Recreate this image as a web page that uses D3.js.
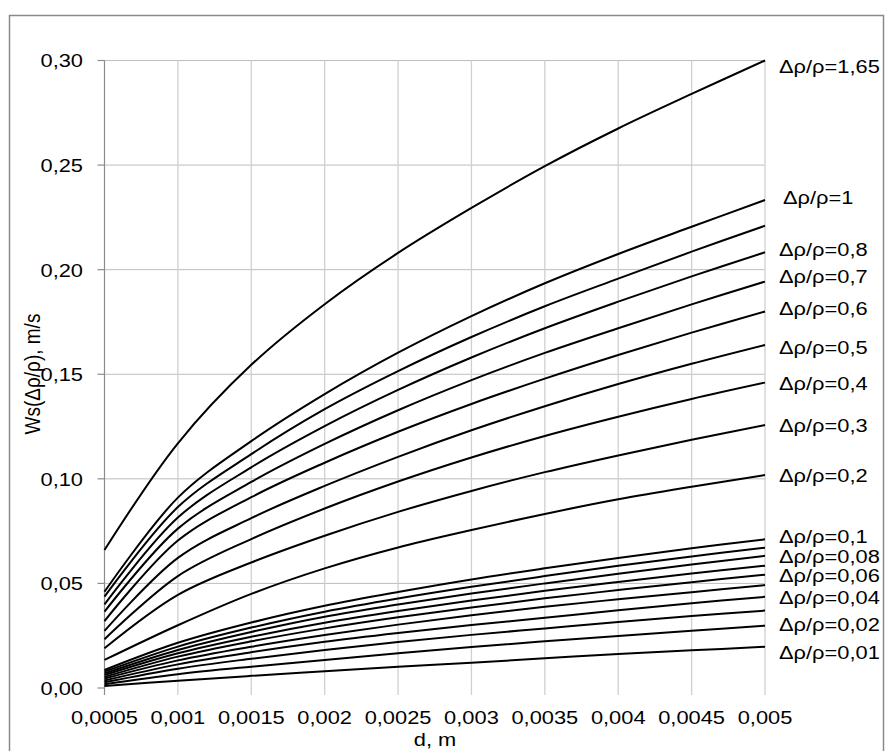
<!DOCTYPE html>
<html>
<head>
<meta charset="utf-8">
<script src="https://cdnjs.cloudflare.com/ajax/libs/d3/7.8.5/d3.min.js"></script>
<style>
  body { margin: 0; background: #fff; }
  text { font-family: "Liberation Sans", Arial, sans-serif; fill: #000; }
</style>
</head>
<body>
<div id="chart"></div>
<script>
// particle diameter, m (x ticks)
const diameters = [0.0005, 0.001, 0.0015, 0.002, 0.0025, 0.003, 0.0035, 0.004, 0.0045, 0.005]
const xTickLabels = ['0,0005', '0,001', '0,0015', '0,002', '0,0025', '0,003', '0,0035', '0,004', '0,0045', '0,005']

const yTicks = [0, 0.05, 0.10, 0.15, 0.20, 0.25, 0.30]
const yTickLabels = ['0,00', '0,05', '0,10', '0,15', '0,20', '0,25', '0,30']

// settling velocity Ws, m/s, one array per density ratio
const ws165 = [0.066, 0.117, 0.1545, 0.1835, 0.208, 0.2295, 0.2495, 0.2675, 0.284, 0.300]
const ws100 = [0.046, 0.091, 0.118, 0.1405, 0.1603, 0.1778, 0.1935, 0.2075, 0.2205, 0.2333]
const ws090 = [0.0437, 0.0865, 0.1118, 0.1333, 0.1515, 0.1678, 0.1825, 0.1957, 0.2086, 0.221]
const ws080 = [0.040, 0.0815, 0.1055, 0.1252, 0.1425, 0.158, 0.172, 0.1847, 0.1968, 0.2083]
const ws070 = [0.0365, 0.0762, 0.0985, 0.1167, 0.1328, 0.1472, 0.1602, 0.172, 0.1834, 0.1943]
const ws060 = [0.032, 0.0705, 0.0912, 0.1077, 0.1225, 0.1358, 0.1479, 0.1592, 0.1699, 0.180]
const ws050 = [0.0273, 0.0622, 0.0812, 0.0966, 0.1105, 0.1232, 0.1347, 0.1453, 0.155, 0.164]
const ws040 = [0.0233, 0.0535, 0.0712, 0.0858, 0.0987, 0.1102, 0.1205, 0.1297, 0.1382, 0.146]
const ws030 = [0.019, 0.0445, 0.060, 0.0728, 0.0842, 0.0942, 0.1032, 0.1112, 0.1187, 0.1257]
const ws020 = [0.0134, 0.030, 0.045, 0.0572, 0.0672, 0.0755, 0.0832, 0.0902, 0.0962, 0.1018]
const ws010 = [0.0086, 0.0216, 0.0313, 0.0393, 0.0459, 0.0519, 0.0572, 0.0622, 0.0668, 0.0711]
const ws009 = [0.0078, 0.0198, 0.0289, 0.0365, 0.0428, 0.0484, 0.0535, 0.0584, 0.0629, 0.0671]
const ws008 = [0.0070, 0.0182, 0.0268, 0.0341, 0.0399, 0.0452, 0.0500, 0.0546, 0.0590, 0.0632]
const ws007 = [0.0062, 0.0166, 0.0245, 0.0312, 0.0368, 0.0418, 0.0465, 0.0507, 0.0547, 0.0585]
const ws006 = [0.0053, 0.0150, 0.0223, 0.0285, 0.0338, 0.0385, 0.0429, 0.0468, 0.0506, 0.0542]
const ws005 = [0.0045, 0.0132, 0.0197, 0.0253, 0.0303, 0.0348, 0.0389, 0.0424, 0.0458, 0.0492]
const ws004 = [0.0036, 0.0113, 0.0171, 0.0221, 0.0263, 0.0301, 0.0336, 0.0372, 0.0405, 0.0436]
const ws003 = [0.0027, 0.0092, 0.0140, 0.0182, 0.0220, 0.0254, 0.0285, 0.0316, 0.0344, 0.0370]
const ws002 = [0.0018, 0.0066, 0.0102, 0.0134, 0.0166, 0.0196, 0.0223, 0.0249, 0.0274, 0.0298]
const ws001 = [0.0009, 0.0035, 0.0058, 0.0080, 0.0102, 0.0121, 0.0142, 0.0163, 0.0180, 0.0197]

const seriesLabels = ['Δρ/ρ=1,65', 'Δρ/ρ=1', '', 'Δρ/ρ=0,8', 'Δρ/ρ=0,7', 'Δρ/ρ=0,6', 'Δρ/ρ=0,5',
  'Δρ/ρ=0,4', 'Δρ/ρ=0,3', 'Δρ/ρ=0,2', 'Δρ/ρ=0,1', '', 'Δρ/ρ=0,08', '', 'Δρ/ρ=0,06', '',
  'Δρ/ρ=0,04', '', 'Δρ/ρ=0,02', 'Δρ/ρ=0,01']

const series = [ws165, ws100, ws090, ws080, ws070, ws060, ws050, ws040, ws030, ws020,
  ws010, ws009, ws008, ws007, ws006, ws005, ws004, ws003, ws002, ws001]

;(function () {

  const width = 885
  const height = 751
  const stretch = 1.15   // the source picture is a little wider than tall

  // nudges for the right hand labels, px from the end of each line
  const labelNudge = [6, -3, 0, -3, -5, -3, 2, 1, 0, 0, -3, 0, 0, 0, 1, 0, 0, 0, -2, 5]

  const svg = d3.select('#chart').append('svg')
    .attr('width', width)
    .attr('height', height)

  const xPositionScale = d3.scaleLinear()
    .domain([0.0005, 0.005])
    .range([104.5, 765])

  const yPositionScale = d3.scaleLinear()
    .domain([0, 0.30])
    .range([688, 60.5])

  // outer frame
  svg.append('rect')
    .attr('x', 9.5)
    .attr('y', 15.5)
    .attr('width', 874)
    .attr('height', 760)
    .attr('fill', 'none')
    .attr('stroke', '#8a8a8a')
    .attr('stroke-width', 1.5)

  // horizontal grid
  svg.selectAll('.hgrid')
    .data(yTicks.filter(d => d > 0))
    .join('line')
    .attr('class', 'hgrid')
    .attr('x1', 104.5)
    .attr('x2', xPositionScale(0.005))
    .attr('y1', d => yPositionScale(d))
    .attr('y2', d => yPositionScale(d))
    .attr('stroke', '#bdbdbd')
    .attr('stroke-width', 1)

  // vertical grid, runs a little below the plot as tick marks
  svg.selectAll('.vgrid')
    .data(diameters.slice(1))
    .join('line')
    .attr('class', 'vgrid')
    .attr('x1', d => xPositionScale(d))
    .attr('x2', d => xPositionScale(d))
    .attr('y1', yPositionScale(0.30))
    .attr('y2', yPositionScale(0) + 7)
    .attr('stroke', '#d0d0d0')
    .attr('stroke-width', 1.3)

  // y axis line + ticks
  svg.append('line')
    .attr('x1', 104.5)
    .attr('x2', 104.5)
    .attr('y1', yPositionScale(0.30))
    .attr('y2', yPositionScale(0) + 7)
    .attr('stroke', '#8c8c8c')
    .attr('stroke-width', 1.2)

  svg.selectAll('.ytick')
    .data(yTicks)
    .join('line')
    .attr('class', 'ytick')
    .attr('x1', 97.5)
    .attr('x2', 104.5)
    .attr('y1', d => yPositionScale(d))
    .attr('y2', d => yPositionScale(d))
    .attr('stroke', '#8c8c8c')
    .attr('stroke-width', 1.2)

  svg.selectAll('.ylabel')
    .data(yTicks)
    .join('text')
    .attr('class', 'ylabel')
    .attr('transform', d => 'translate(83,' + yPositionScale(d) + ') scale(' + stretch + ',1)')
    .attr('dy', '0.36em')
    .attr('text-anchor', 'end')
    .attr('font-size', 19)
    .text((d, i) => yTickLabels[i])

  svg.selectAll('.xlabel')
    .data(diameters)
    .join('text')
    .attr('class', 'xlabel')
    .attr('transform', d => 'translate(' + xPositionScale(d) + ',724) scale(' + stretch + ',1)')
    .attr('text-anchor', 'middle')
    .attr('font-size', 19)
    .text((d, i) => xTickLabels[i])

  // axis titles
  svg.append('text')
    .attr('transform', 'translate(435,746) scale(' + stretch + ',1)')
    .attr('text-anchor', 'middle')
    .attr('font-size', 19)
    .text('d, m')

  svg.append('text')
    .attr('transform', 'translate(40,374) rotate(-90) scale(1,' + stretch + ')')
    .attr('text-anchor', 'middle')
    .attr('font-size', 19)
    .text('Ws(Δρ/ρ), m/s')

  // the curves
  const line = d3.line()
    .x((d, i) => xPositionScale(diameters[i]))
    .y(d => yPositionScale(d))
    .curve(d3.curveCatmullRom.alpha(0.5))

  svg.selectAll('.curve')
    .data(series)
    .join('path')
    .attr('class', 'curve')
    .attr('d', line)
    .attr('fill', 'none')
    .attr('stroke', '#000')
    .attr('stroke-width', 2)

  // labels at the right end of the curves
  svg.selectAll('.slabel')
    .data(series)
    .join('text')
    .attr('class', 'slabel')
    .attr('transform', (d, i) => {
      const lx = seriesLabels[i] === 'Δρ/ρ=1' ? 783 : 779
      const ly = yPositionScale(d[d.length - 1]) + labelNudge[i]
      return 'translate(' + lx + ',' + ly + ') scale(' + stretch + ',1)'
    })
    .attr('dy', '0.36em')
    .attr('font-size', 19)
    .text((d, i) => seriesLabels[i])

})();
</script>
</body>
</html>
